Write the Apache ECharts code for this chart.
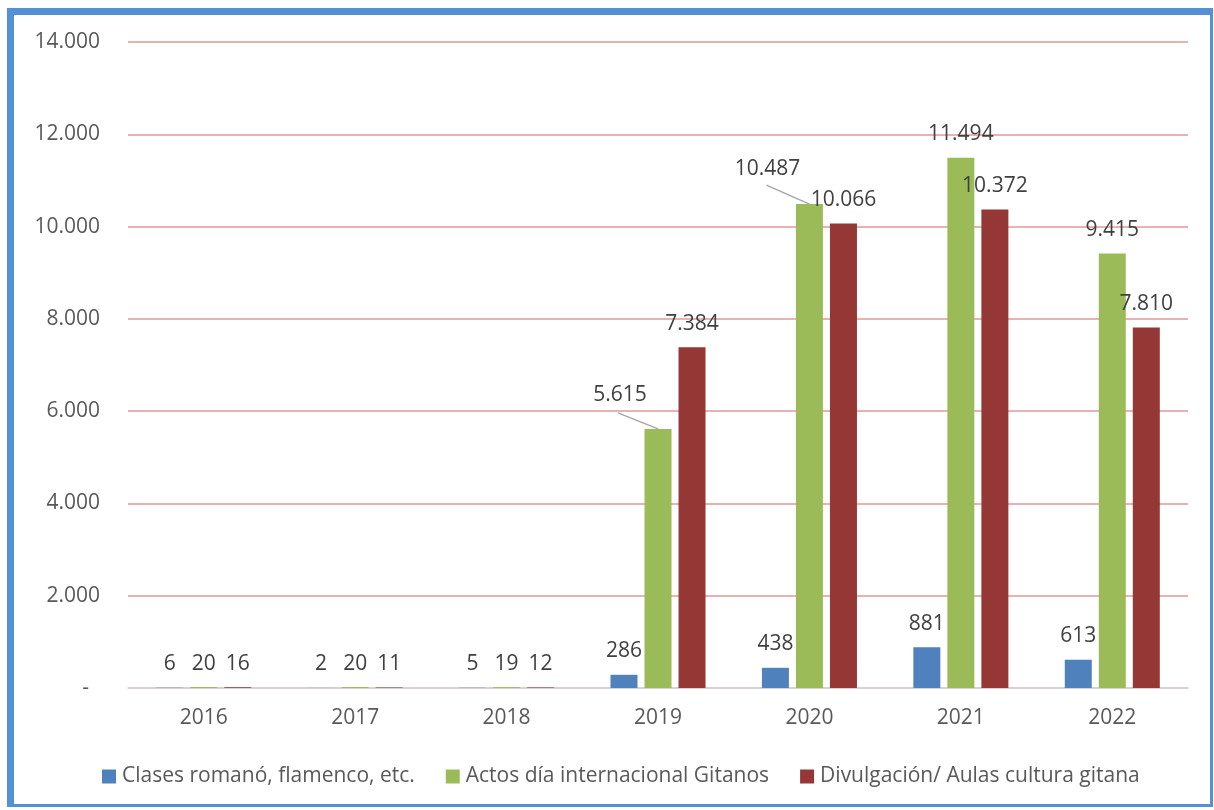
<!DOCTYPE html>
<html><head><meta charset="utf-8">
<script src="https://cdn.jsdelivr.net/npm/echarts@6/dist/echarts.min.js"></script>
<style>
html,body{margin:0;padding:0;background:#fff;}
#c{position:absolute;left:0;top:0;width:1214px;height:810px;}
#frame{position:absolute;left:7px;top:8px;width:1206px;height:799px;box-sizing:border-box;
border-top:7px solid #5590D6;border-left:7px solid #5590D6;border-right:3px solid #5590D6;border-bottom:3px solid #5590D6;pointer-events:none;}
</style></head>
<body>
<div id="c"></div>
<div id="frame"></div>
<script>
var years = ['2016','2017','2018','2019','2020','2021','2022'];
var seriesNames = ['Clases romanó, flamenco, etc.','Actos día internacional Gitanos','Divulgación/ Aulas cultura gitana'];
var clases = [6, 2, 5, 286, 438, 881, 613];
var actos = [20, 20, 19, 5615, 10487, 11494, 9415];
var divulgacion = [16, 11, 12, 7384, 10066, 10372, 7810];
var yTicks = {min: 0, max: 14000, interval: 2000};

var FONT = 'Open Sans';
var FS = 21;
var TXT = '#595959';
function fmt(v){ return String(v).replace(/\B(?=(\d{3})+(?!\d))/g, '.'); }

// green labels moved aside (with leader lines), keyed by category index
var movedGreen = {3: {dx: -38, dy: -10, lx: -40, ly: -16}, 4: {dx: -42, dy: -12, lx: -43, ly: -19}};

function mkSeries(name, arr, color, moved){
  return {
    name: name, type: 'bar', barWidth: 27, barGap: '26%',
    itemStyle: {color: color},
    data: arr,
    label: {show: true, position: 'top', distance: 13, color: '#404040', fontFamily: FONT, fontSize: FS,
      formatter: function(p){ return fmt(p.value); }},
    labelLayout: moved ? function(p){ var m = moved[p.dataIndex]; return m ? {dx: m.dx, dy: m.dy} : {}; } : undefined
  };
}

var leaderData = Object.keys(movedGreen).map(function(k){ var i = +k; return [i, actos[i]]; });

var chart = echarts.init(document.getElementById('c'), null, {renderer: 'canvas'});
chart.setOption({
  animation: false,
  backgroundColor: '#fff',
  textStyle: {fontFamily: FONT},
  grid: {left: 128, right: 26, top: 42, bottom: 122, containLabel: false},
  legend: {
    top: 761, left: 97, itemWidth: 14, itemHeight: 14, itemGap: 31,
    icon: 'rect',
    textStyle: {color: TXT, fontFamily: FONT, fontSize: FS, padding: [0, 0, 0, 1]},
    data: seriesNames
  },
  xAxis: {
    type: 'category', data: years,
    axisLine: {lineStyle: {color: '#D9D9D9', width: 1.5}},
    axisTick: {show: false},
    axisLabel: {color: TXT, fontFamily: FONT, fontSize: FS, margin: 20}
  },
  yAxis: {
    type: 'value', min: yTicks.min, max: yTicks.max, interval: yTicks.interval,
    axisLine: {show: false}, axisTick: {show: false},
    splitLine: {lineStyle: {color: '#DE9A98', width: 1.5}},
    axisLabel: {color: TXT, fontFamily: FONT, fontSize: FS, margin: 28,
      formatter: function(v){ return v === 0 ? '{d|-}' : fmt(v); },
      rich: {d: {color: TXT, fontFamily: FONT, fontSize: FS, padding: [0, 11, 0, 0]}}}
  },
  series: [
    mkSeries(seriesNames[0], clases, '#4F81BD'),
    mkSeries(seriesNames[1], actos, '#9BBB59', movedGreen),
    mkSeries(seriesNames[2], divulgacion, '#953735'),
    {
      name: 'leader', type: 'custom', silent: true, z: 5,
      data: leaderData,
      renderItem: function(params, api){
        var i = api.value(0);
        var p = api.coord([i, api.value(1)]);
        var m = movedGreen[i];
        return {type: 'line', shape: {x1: p[0], y1: p[1], x2: p[0] + m.lx, y2: p[1] + m.ly},
          style: {stroke: '#A6A6A6', lineWidth: 1.5}};
      }
    }
  ]
});
</script>
</body></html>
